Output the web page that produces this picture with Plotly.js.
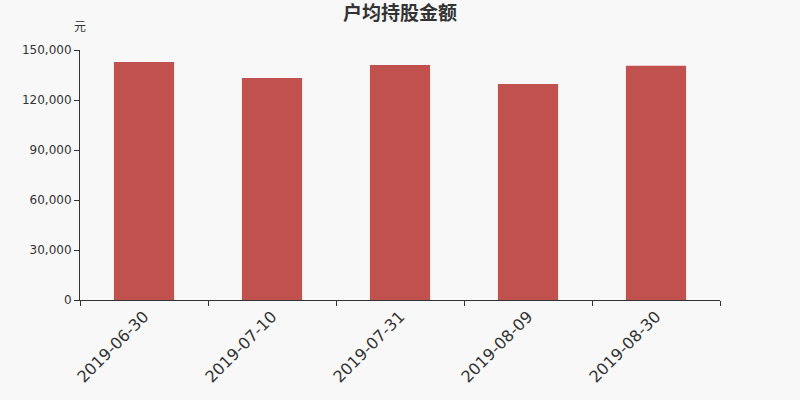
<!DOCTYPE html>
<html>
<head>
<meta charset="utf-8">
<script src="https://cdn.plot.ly/plotly-3.0.1.min.js"></script>
<style>
  html, body { margin: 0; padding: 0; background: #f8f8f8; }
  #chart { width: 800px; height: 400px; }
</style>
</head>
<body>
<div id="chart"></div>
<script>
// data
const dates = ['2019-06-30', '2019-07-10', '2019-07-31', '2019-08-09', '2019-08-30'];
const amounts = [142800, 133200, 141000, 129600, 140600];
const yTicks = [0, 30000, 60000, 90000, 120000, 150000];

const font = 'DejaVu Sans, "Noto Sans CJK SC", sans-serif';

Plotly.newPlot('chart', [{
    x: dates,
    y: amounts,
    type: 'bar',
    marker: { color: '#c1514e' },
    hoverinfo: 'x+y'
}], {
    width: 800,
    height: 400,
    margin: { l: 80, r: 80, t: 50, b: 100 },
    paper_bgcolor: '#f8f8f8',
    plot_bgcolor: '#f8f8f8',
    font: { family: font, color: '#333', size: 12 },
    bargap: 0.53,
    showlegend: false,
    title: {
        text: '<b>户均持股金额</b>',
        x: 0.5, xanchor: 'center',
        y: 0.966, yanchor: 'middle',
        font: { family: font, size: 19, color: '#333' }
    },
    xaxis: {
        type: 'category',
        tickangle: -45,
        tickson: 'boundaries',
        ticks: 'outside',
        ticklen: 5,
        tickcolor: '#333',
        showline: true,
        linecolor: '#333',
        showgrid: false,
        zeroline: false,
        tickfont: { size: 16, color: '#333' }
    },
    yaxis: {
        range: [0, 150000],
        tickvals: yTicks,
        tickformat: ',d',
        ticks: 'outside',
        ticklen: 5,
        tickcolor: '#333',
        showline: true,
        linecolor: '#333',
        showgrid: false,
        zeroline: false,
        tickfont: { size: 12, color: '#333' }
    },
    annotations: [{
        text: '元',
        xref: 'paper', yref: 'paper',
        x: 0, y: 1.09,
        xanchor: 'center', yanchor: 'middle',
        showarrow: false,
        font: { family: font, size: 12, color: '#333' }
    }]
}, { displayModeBar: false, staticPlot: true });
</script>
</body>
</html>
